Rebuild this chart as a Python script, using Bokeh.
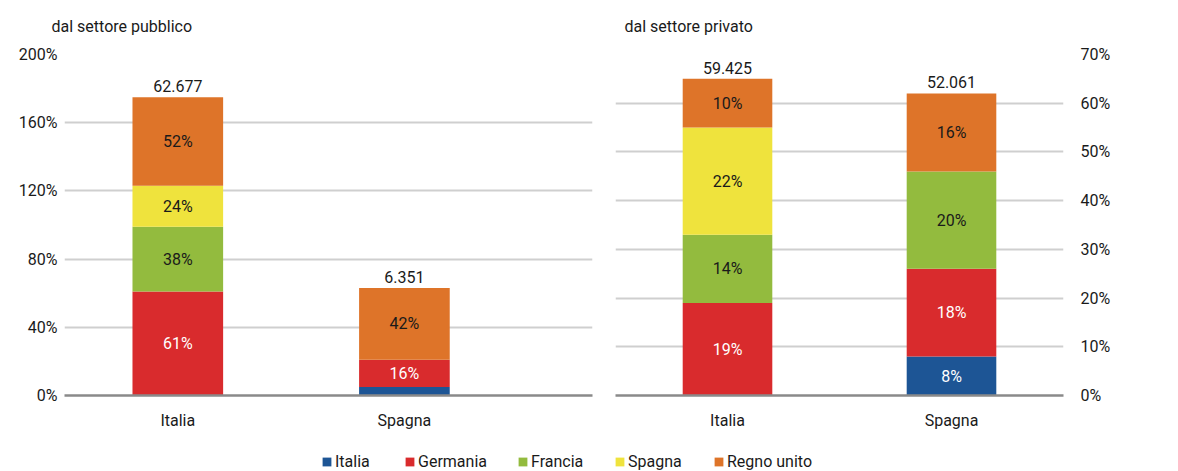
from bokeh.plotting import figure
from bokeh.models import (Range1d, FixedTicker, PrintfTickFormatter, ColumnDataSource,
                          Legend, LegendItem)
from bokeh.layouts import column, row
from bokeh.embed import file_html
from bokeh.resources import INLINE
from bokeh.core.properties import value

# ---------------- data ----------------
countries = ["Italia", "Spagna"]
series = ["Italia", "Germania", "Francia", "Spagna", "Regno unito"]
colors = ["#1d5595", "#d92b2d", "#93bb3e", "#efe33d", "#de7429"]
label_colors = ["white", "white", "#1a1a1a", "#1a1a1a", "#1a1a1a"]

# shares (%) by creditor series, for [Italia, Spagna]
pub_italia_vals = [0, 61, 38, 24, 52]
pub_spagna_vals = [5, 16, 0, 0, 42]
pub_totals = ["62.677", "6.351"]
pub_ticks = [0, 40, 80, 120, 160, 200]

priv_italia_vals = [0, 19, 14, 22, 10]
priv_spagna_vals = [8, 18, 20, 0, 16]
priv_totals = ["59.425", "52.061"]
priv_ticks = [0, 10, 20, 30, 40, 50, 60, 70]

FONT = "Roboto"
FS = "16px"
TXT = "#1a1a1a"


def make_panel(vals_by_country, totals, ticks, x_end, title, title_offset,
               width, axis_side, b_left, b_right):
    p = figure(width=width, height=440, output_backend="svg", toolbar_location=None,
               x_range=Range1d(0, x_end), y_range=Range1d(0, ticks[-1]),
               y_axis_location=axis_side,
               min_border_left=b_left, min_border_right=b_right,
               min_border_top=53, min_border_bottom=45)
    p.outline_line_color = None
    p.background_fill_color = "white"
    p.border_fill_color = "white"
    p.xgrid.visible = False
    p.ygrid.grid_line_color = "#cfcfcf"
    p.ygrid.grid_line_width = 1.8
    p.ygrid.ticker = FixedTicker(ticks=ticks)

    p.title.text = title
    p.title.align = "left"
    p.title.vertical_align = "top"
    p.title.offset = title_offset
    p.title.text_font = FONT
    p.title.text_font_size = FS
    p.title.text_font_style = "normal"
    p.title.text_color = TXT
    p.title.standoff = 33

    xs = [i + 0.5 for i in range(len(countries))]
    bottoms = [0.0 for _ in countries]
    for si, name in enumerate(series):
        vals = [v[si] for v in vals_by_country]
        tops = [b + v for b, v in zip(bottoms, vals)]
        src = ColumnDataSource(dict(x=xs, bottom=bottoms, top=tops))
        p.vbar(x="x", bottom="bottom", top="top", width=0.4, source=src,
               fill_color=colors[si], line_color=None)
        lx, ly, lt = [], [], []
        for x, b, v in zip(xs, bottoms, vals):
            if v >= 8:
                lx.append(x)
                ly.append(b + v / 2)
                lt.append(f"{v:.0f}%")
        if lx:
            p.text(x=lx, y=ly, text=lt, text_align="center", text_baseline="middle",
                   text_font=value(FONT), text_font_size=FS,
                   text_color=label_colors[si])
        bottoms = tops

    p.text(x=xs, y=bottoms, text=totals, text_align="center", text_baseline="bottom",
           y_offset=-5, text_font=value(FONT), text_font_size=FS, text_color=TXT)

    # axes
    yax = p.yaxis[0]
    yax.ticker = FixedTicker(ticks=ticks)
    yax.formatter = PrintfTickFormatter(format="%d%%")
    yax.axis_line_color = None
    yax.major_tick_line_color = None
    yax.minor_tick_line_color = None
    yax.major_tick_out = 0
    yax.major_tick_in = 0
    yax.minor_tick_out = 0
    yax.major_label_text_font = FONT
    yax.major_label_text_font_size = FS
    yax.major_label_text_color = TXT
    yax.major_label_standoff = 7 if axis_side == "left" else 17

    xax = p.xaxis[0]
    xax.ticker = FixedTicker(ticks=xs)
    xax.major_label_overrides = {x: c for x, c in zip(xs, countries)}
    xax.axis_line_color = "#8a8a8a"
    xax.axis_line_width = 2.5
    xax.major_tick_line_color = None
    xax.minor_tick_line_color = None
    xax.major_tick_out = 0
    xax.major_tick_in = 0
    xax.minor_tick_out = 0
    xax.major_label_text_font = FONT
    xax.major_label_text_font_size = FS
    xax.major_label_text_color = TXT
    xax.major_label_standoff = 15
    return p


p1 = make_panel([pub_italia_vals, pub_spagna_vals], pub_totals, pub_ticks, 2.33,
                "dal settore pubblico", -13, 600, "left", 64, 8)
p2 = make_panel([priv_italia_vals, priv_spagna_vals], priv_totals, priv_ticks, 2.0,
                "dal settore privato", 9, 578, "right", 15, 115)

# legend strip
pl = figure(width=1178, height=31, output_backend="svg", toolbar_location=None,
            x_range=Range1d(0, 1), y_range=Range1d(0, 1),
            min_border=0, min_border_left=0, min_border_right=0,
            min_border_top=0, min_border_bottom=0)
pl.axis.visible = False
pl.grid.visible = False
pl.outline_line_color = None
legend_x = [321, 404, 517, 614, 713]
for name, col, lx in zip(series, colors, legend_x):
    # placeholder renderer kept outside the visible range; only its legend swatch shows
    r = pl.vbar(x=[-5], top=[-5], width=0.1, fill_color=col, line_color=None)
    lg = Legend(items=[LegendItem(label=name, renderers=[r])], orientation="horizontal",
                location=(lx, 0), padding=0, margin=0, spacing=0,
                glyph_width=11, glyph_height=11, label_height=11, label_standoff=3,
                label_text_font=FONT, label_text_font_size=FS,
                label_text_color=TXT, border_line_color=None,
                background_fill_alpha=0)
    pl.add_layout(lg, "center")

layout = column(row(p1, p2, spacing=0), pl, spacing=0)

with open("out.html", "w") as f:
    f.write(file_html(layout, INLINE))
